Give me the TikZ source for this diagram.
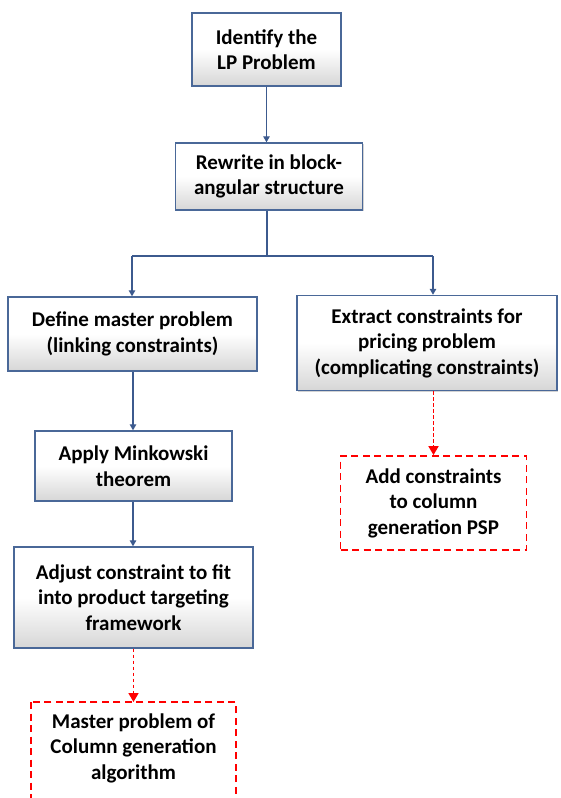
\documentclass[tikz,border=0pt]{standalone}
\usepackage{fontspec}
\setmainfont{Carlito}
\usetikzlibrary{arrows.meta,shadows}
\definecolor{boxline}{HTML}{4A6898}
\definecolor{flowline}{HTML}{3C5A8E}
\definecolor{alertred}{HTML}{FF0000}
\tikzset{
  stepbox/.style={draw=boxline, line width=1.4bp, rectangle, align=center,
    top color=white, bottom color=black!16, middle color=white,
    drop shadow={shadow xshift=1.2bp, shadow yshift=-1.2bp, opacity=0.35},
    font=\bfseries\fontsize{21bp}{25.5bp}\selectfont, inner sep=0pt},
  redbox/.style={draw=alertred, line width=1.8bp, dash pattern=on 7bp off 4.5bp},
  redtext/.style={align=center, font=\bfseries\fontsize{21bp}{25.5bp}\selectfont, inner sep=0pt},
  flow/.style={draw=flowline, line width=1.3bp},
  flowarrow/.style={flow, -{Triangle[width=6.5bp,length=6bp]}},
  dotarrow/.style={draw=alertred, line width=1.7bp, dash pattern=on 3.5bp off 2.5bp,
    -{Triangle[width=10bp,length=9bp,fill=alertred]}}
}
\begin{document}
\begin{tikzpicture}[x=1bp,y=-1bp]
\useasboundingbox (0,0) rectangle (561,798);
\clip (0,0) rectangle (561,798);

% main chain of steps
\node[stepbox, minimum width=149bp, minimum height=73bp] (identify) at (266.5,49.5)
  {Identify the\\LP Problem};
\node[stepbox, minimum width=187bp, minimum height=67bp] (rewrite) at (269,176.5)
  {Rewrite in block-\\angular structure};
\node[stepbox, minimum width=249bp, minimum height=74bp] (master) at (132.5,334)
  {Define master problem\\(linking constraints)};
\node[stepbox, minimum width=260bp, minimum height=95bp] (extract) at (427,343)
  {Extract constraints for\\pricing problem\\(complicating constraints)};
\node[stepbox, minimum width=197bp, minimum height=70bp] (minkowski) at (133.5,466)
  {Apply Minkowski\\theorem};
\node[stepbox, minimum width=239bp, minimum height=101bp] (adjust) at (133.5,597.5)
  {Adjust constraint to fit\\into product targeting\\framework};

% outcome boxes (dashed)
\node[redbox, redtext, minimum width=186bp, minimum height=94bp] (psp) at (433.5,503)
  {Add constraints\\to column\\generation PSP};
\node[redtext] (cgmaster) at (133.5,748)
  {Master problem of\\Column generation\\algorithm};
\draw[redbox] (cgmaster.center) ++(-102.5,-46) rectangle ++(205,110);
\coordinate (cgtop) at (133.5,702);

% connectors
\draw[flowarrow] (identify.south) -- (identify.south |- rewrite.north);
\coordinate (split) at (267,256);
\coordinate (splitL) at (132,256);
\coordinate (splitR) at (433,256);
\draw[flow] (rewrite.south -| split) -- (split);
\draw[flow] (splitL) -- (splitR);
\draw[flowarrow] (splitL) -- (splitL |- master.north);
\draw[flowarrow] (splitR) -- (splitR |- extract.north);
\draw[flowarrow] (master.south -| 133,0) -- (minkowski.north -| 133,0);
\draw[flowarrow] (minkowski.south -| 133,0) -- (adjust.north -| 133,0);
\draw[dotarrow] (extract.south -| psp.north) -- (psp.north);
\draw[dotarrow] (adjust.south) -- (cgtop);
\end{tikzpicture}
\end{document}
